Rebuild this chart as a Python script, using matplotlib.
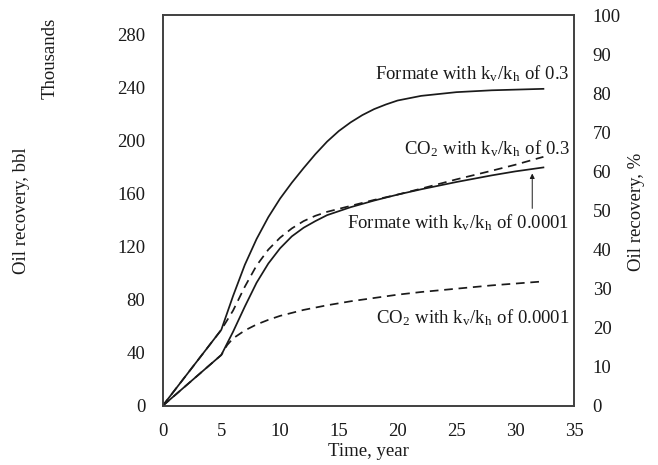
import matplotlib
matplotlib.use("Agg")
import matplotlib.pyplot as plt

plt.rcParams["font.family"] = ["Liberation Serif", "DejaVu Serif"]
plt.rcParams["mathtext.fontset"] = "stix"

# time, year
T_FORMATE_03 = [0, 5, 6, 7, 8, 9, 10, 11, 12, 13, 14, 15, 16, 17, 18, 19, 20, 22, 25, 28, 32.4]
FORMATE_03 = [0, 57.5, 83, 106.5, 126, 142.5, 156.5, 168.5, 179.5, 190, 199.5, 207.5, 214, 219.5, 224, 227.5, 230.5, 234, 236.8, 238.2, 239.3]

T_CO2_03 = [0, 5, 6, 7, 8, 9, 10, 11, 12, 13, 14, 16, 18, 20, 22, 25, 28, 30, 32.4]
CO2_03 = [0, 57.5, 72, 90, 106, 118, 127, 134, 139.5, 143.5, 146.5, 151, 155.5, 159.5, 164, 171, 177.5, 182, 188]

T_FORMATE_0001 = [0, 5, 6, 7, 8, 9, 10, 11, 12, 13, 14, 16, 18, 20, 22, 25, 28, 30, 32.4]
FORMATE_0001 = [0, 38.5, 56, 75, 93, 107.5, 119, 128, 134.5, 139.5, 144, 150, 155, 159.5, 163.5, 169, 174, 177, 180]

T_CO2_0001 = [0, 5, 5.5, 6, 7, 8, 9, 10, 12, 14, 16, 18, 20, 22, 25, 28, 32.4]
CO2_0001 = [0, 38.5, 46, 51, 57, 61.5, 65, 68, 72.5, 76, 79, 81.5, 84, 86, 88.5, 91, 94]

LEFT_TICKS = [0, 40, 80, 120, 160, 200, 240, 280]
RIGHT_TICKS = [0, 10, 20, 30, 40, 50, 60, 70, 80, 90, 100]
X_TICKS = [0, 5, 10, 15, 20, 25, 30, 35]

KVKH = r"k$_\mathregular{v}$/k$_\mathregular{h}$"
FS = 13.5
INK = "#1a1a1a"

fig = plt.figure(figsize=(6.58, 4.65), dpi=100)
ax = fig.add_axes([0.247, 0.1269, 0.6253, 0.8408])

dash = (0, (5, 3.3))
ax.plot(T_FORMATE_03, FORMATE_03, color=INK, lw=1.25)
ax.plot(T_FORMATE_0001, FORMATE_0001, color=INK, lw=1.25)
ax.plot(T_CO2_03, CO2_03, color=INK, lw=1.25, linestyle=dash)
ax.plot(T_CO2_0001, CO2_0001, color=INK, lw=1.25, linestyle=dash)

ax.set_xlim(0, 35)
ax.set_ylim(0, 295)
ax.set_xticks(X_TICKS)
ax.set_yticks(LEFT_TICKS)
ax.tick_params(length=0, labelsize=FS, pad=12.5, colors=INK)

for s in ax.spines.values():
    s.set_color("#404040")
    s.set_linewidth(1.2)

ax2 = ax.twinx()
ax2.set_ylim(0, 100)
ax2.set_yticks(RIGHT_TICKS)
ax2.tick_params(length=0, labelsize=FS, pad=13.5, colors=INK)
for s in ax2.spines.values():
    s.set_color("#404040")
    s.set_linewidth(1.2)

ax.set_xlabel("Time, year", fontsize=FS, color=INK)
ax.xaxis.set_label_coords(0.5, -0.095)
ax.set_ylabel("Oil recovery, bbl", fontsize=FS, color=INK)
ax.yaxis.set_label_coords(-0.322, 0.5)
ax.text(-0.273, 0.89, "Thousands", transform=ax.transAxes, rotation=90,
        ha="center", va="center", fontsize=FS, color=INK)
ax2.set_ylabel("Oil recovery, %", fontsize=FS, color=INK)
ax2.yaxis.set_label_coords(1.131, 0.496)

# curve labels
ax.text(34.6, 251, "Formate with " + KVKH + " of 0.3", ha="right", va="center", fontsize=FS, color=INK)
ax.text(34.6, 194, "CO$_\\mathregular{2}$ with " + KVKH + " of 0.3", ha="right", va="center", fontsize=FS, color=INK)
ax.text(34.6, 138, "Formate with " + KVKH + " of 0.0001", ha="right", va="center", fontsize=FS, color=INK)
ax.text(34.6, 67, "CO$_\\mathregular{2}$ with " + KVKH + " of 0.0001", ha="right", va="center", fontsize=FS, color=INK)

ax.annotate("", xy=(31.45, 177.5), xytext=(31.45, 147),
            arrowprops=dict(arrowstyle="-|>", color=INK, lw=0.7, mutation_scale=7))

fig.savefig("out.png", dpi=100)
